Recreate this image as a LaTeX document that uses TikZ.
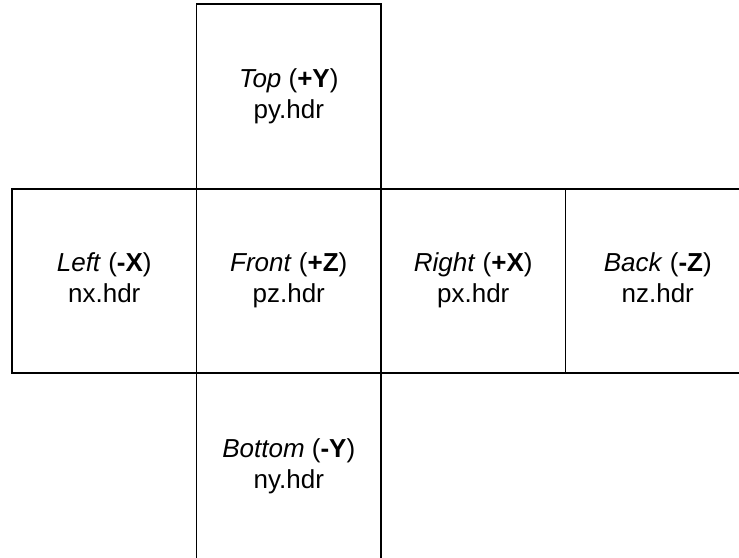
\documentclass[tikz,border=0pt]{standalone}
\usepackage{fontspec}
\setmainfont{Liberation Sans}
\begin{document}
\begin{tikzpicture}[x=1pt,y=-1pt,
  face/.style={draw=black,line width=1.6pt,minimum width=184.5pt,minimum height=184.5pt,
    inner sep=0pt,align=center,font=\fontsize{26}{31}\selectfont},
  bottomface/.style={face,minimum height=188pt}]
\useasboundingbox (0,0) rectangle (739,557);
\clip (0,0) rectangle (739,557);
\node[face] (top) at (288.75,96.5) {\strut\textit{Top} (\textbf{+Y})\\py.hdr\strut};
\node[face] (left) at (104.25,281) {\strut\textit{Left} (\textbf{-X})\\nx.hdr\strut};
\node[face] (front) at (288.75,281) {\strut\textit{Front} (\textbf{+Z})\\pz.hdr\strut};
\node[face] (right) at (473.25,281) {\strut\textit{Right} (\textbf{+X})\\px.hdr\strut};
\node[face] (back) at (657.75,281) {\strut\textit{Back} (\textbf{-Z})\\nz.hdr\strut};
\node[bottomface] (bottom) at (288.75,467.25) {\strut\textit{Bottom} (\textbf{-Y})\\ny.hdr\strut};
\end{tikzpicture}
\end{document}
